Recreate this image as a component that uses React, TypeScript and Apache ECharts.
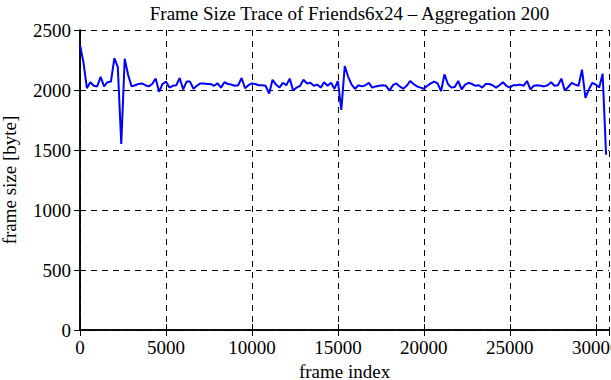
import React, { useEffect, useRef } from "react";
import * as echarts from "echarts";

const TITLE = "Frame Size Trace of Friends6x24 – Aggregation 200";
const X_NAME = "frame index";
const Y_NAME = "frame size [byte]";
const AGG_STEP = 200;
const X_MIN = 0;
const X_MAX = 30770;
const X_INTERVAL = 5000;
const Y_MIN = 0;
const Y_MAX = 2500;
const Y_INTERVAL = 500;

// aggregated frame sizes (bytes), one value per 200 frames
const frameSizes = [
  2375, 2230, 2015, 2065, 2035, 2030, 2110, 2030, 2065, 2070,
  2265, 2190, 1550, 2260, 2125, 2030, 2040, 2050, 2055, 2040,
  2030, 2050, 2095, 1985, 2050, 2070, 2020, 2035, 2040, 2100,
  2005, 2070, 2070, 2010, 2035, 2055, 2055, 2050, 2050, 2035,
  2055, 2020, 2065, 2050, 2045, 2035, 2040, 2100, 2015, 2040,
  2055, 2050,
  2040, 2040, 2035, 1970, 2085, 2045, 2020, 2060, 2040, 2095,
  1995, 2020, 2035, 2085, 2055, 2060, 2035, 2045, 2020, 2065,
  2035, 2060, 2010, 2075, 1835, 2200, 2110, 2045, 2010, 2040,
  2030, 2040, 2060, 2020, 2030, 2035, 2040, 2035, 1995, 2040,
  2055, 2030, 2010, 2035, 2075, 2050, 2030, 2020, 2010, 2035,
  2055, 2070, 2055, 1990, 2130, 2050, 2020, 2025, 2075, 2005,
  2045, 2060, 2050, 2035, 2040, 2020, 2050, 2050, 2040, 2020,
  2040, 2065, 2035, 2020, 2040, 2040, 2045, 2035, 2075, 2005,
  2035, 2040, 2035, 2030, 2040, 2065, 2035, 2040, 2095, 1995,
  2025, 2060, 2045, 2035, 2170, 1935, 2005, 2060, 2045, 2020,
  2135, 1460,
];

const FONT = "'Liberation Serif', 'DejaVu Serif', serif";

export default function App() {
  const ref = useRef<HTMLDivElement>(null);
  useEffect(() => {
    document.body.style.margin = "0";
    const chart = echarts.init(ref.current!, null, { renderer: "svg" });
    const data = frameSizes.map((v, i) => [i * AGG_STEP, v]);
    const axisLine = { show: true, lineStyle: { color: "#000", width: 1.5 } };
    const tick = { show: true, inside: true, length: 6, lineStyle: { color: "#000", width: 1 } };
    const split = { show: true, lineStyle: { color: "#000", width: 1, type: [6, 5] as number[] } };
    const fmt = (v: number) => String(v);
    const label = { color: "#000", fontFamily: FONT, fontSize: 19, formatter: fmt };
    chart.setOption({
      animation: false,
      backgroundColor: "#fff",
      textStyle: { fontFamily: FONT, color: "#000" },
      title: {
        text: TITLE,
        left: 344.5,
        top: -1,
        textAlign: "center",
        textStyle: { color: "#000", fontFamily: FONT, fontSize: 19, fontWeight: "normal" },
      },
      grid: { left: 80, top: 30, width: 529, height: 300, containLabel: false, outerBoundsMode: "none" },
      xAxis: [
        {
          type: "value",
          position: "bottom",
          min: X_MIN,
          max: X_MAX,
          interval: X_INTERVAL,
          axisLine,
          axisTick: tick,
          axisLabel: { ...label, margin: 8, showMaxLabel: false, hideOverlap: false },
          splitLine: split,
          name: X_NAME,
          nameLocation: "middle",
          nameGap: 27,
          nameTextStyle: { color: "#000", fontFamily: FONT, fontSize: 19, lineHeight: 18 },
        },
        {
          type: "value",
          position: "top",
          min: X_MIN,
          max: X_MAX,
          interval: X_INTERVAL,
          axisLine,
          axisTick: tick,
          axisLabel: { show: false },
          splitLine: { show: false },
        },
      ],
      yAxis: [
        {
          type: "value",
          position: "left",
          min: Y_MIN,
          max: Y_MAX,
          interval: Y_INTERVAL,
          axisLine,
          axisTick: tick,
          axisLabel: { ...label, margin: 9 },
          splitLine: split,
          name: Y_NAME,
          nameLocation: "middle",
          nameGap: 61,
          nameTextStyle: { color: "#000", fontFamily: FONT, fontSize: 19 },
        },
        {
          type: "value",
          position: "right",
          min: Y_MIN,
          max: Y_MAX,
          interval: Y_INTERVAL,
          axisLine,
          axisTick: tick,
          axisLabel: { show: false },
          splitLine: { show: false },
        },
      ],
      series: [
        {
          type: "line",
          xAxisIndex: 0,
          yAxisIndex: 0,
          data,
          showSymbol: false,
          symbol: "none",
          lineStyle: { color: "#0000ff", width: 2 },
          z: 5,
        },
      ],
    });
    return () => chart.dispose();
  }, []);
  return <div ref={ref} style={{ width: 611, height: 380 }} />;
}
